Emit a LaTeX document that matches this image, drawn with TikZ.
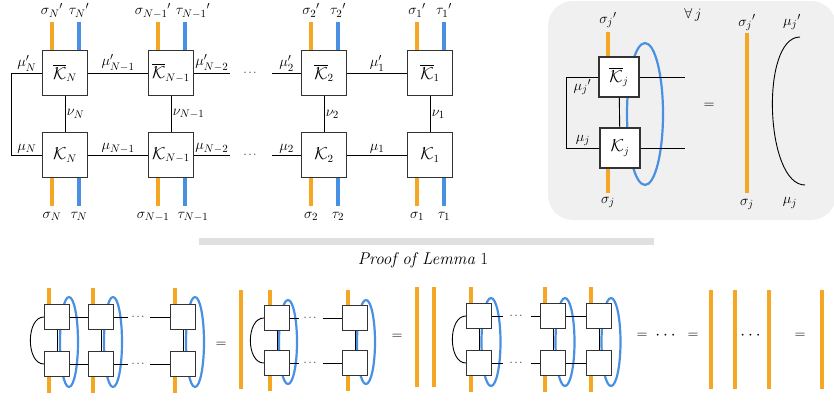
\documentclass[tikz,border=0pt]{standalone}
\usepackage{amsmath, amssymb}
\usepackage{tikz}
\usetikzlibrary{positioning}
\definecolor{legorange}{RGB}{245,166,35}
\definecolor{legblue}{RGB}{74,144,226}

\begin{document}
\begin{tikzpicture}[
  x=1pt, y=-1pt,
  font=\fontsize{15}{18}\selectfont,
  tensor/.style={draw=black!80, line width=1.3pt, fill=white, minimum size=45pt, inner sep=0pt,
    font=\fontsize{16}{19}\selectfont},
  stensor/.style={tensor, minimum size=25pt},
  bond/.style={black, line width=0.9pt},
  oleg/.style={legorange, line width=4.5pt},
  bleg/.style={legblue, line width=4.5pt},
  bloop/.style={legblue, line width=2.2pt},
  lbl/.style={inner sep=1.5pt, text=black},
  toplbl/.style={anchor=base, inner sep=0pt, text=black, yshift=7pt},
  botlbl/.style={anchor=base, inner sep=0pt, text=black, yshift=-12pt},
  dotsnode/.style={inner sep=0pt, font=\fontsize{11}{12}\selectfont},
  bigdots/.style={inner sep=0pt, font=\fontsize{17}{19}\selectfont}
]
\useasboundingbox (0,0) rectangle (834,400);

% background of the identity and the separator
\fill[gray!12, rounded corners=25pt] (548,1) rectangle (836,220);
\draw[gray!24, line width=7pt] (199,241) -- (654,241);

% top: the double chain
\foreach \n/\x/\s/\so/\to in {N/65/N/0/0, M/171/N-1/-5/8, B/324/2/0/0, A/430/1/0/0} {
  \node[tensor] (kb\n) at (\x,73) {$\overline{\mathcal{K}}_{\s}$};
  \node[tensor] (k\n) at (\x,155) {$\mathcal{K}_{\s}$};
  \draw[bond] (kb\n) -- node[right, lbl] {$\nu_{\s}$} (k\n);
  \draw[oleg] ([xshift=-13pt]kb\n.north) -- ++(0,-28) node[toplbl, xshift=\so] {${\sigma_{\s}}'$};
  \draw[bleg] ([xshift=14pt]kb\n.north) -- ++(0,-28) node[toplbl, xshift=\to] {${\tau_{\s}}'$};
  \draw[oleg] ([xshift=-13pt]k\n.south) -- ++(0,28) node[botlbl, xshift=\so] {$\sigma_{\s}$};
  \draw[bleg] ([xshift=14pt]k\n.south) -- ++(0,28) node[botlbl, xshift=\to] {$\tau_{\s}$};
}
\node[dotsnode, minimum width=42pt] (dt) at (251,73) {$\cdots$};
\node[dotsnode, minimum width=42pt] (db) at (251,155) {$\cdots$};

\draw[bond] (kbN.west) -- node[above, lbl] {$\mu'_N$} ++(-30,0) |- (kN.west)
  node[pos=0.75, above, lbl] {$\mu_N$};
\draw[bond] (kbN) -- node[above, lbl] {$\mu'_{N-1}$} (kbM);
\draw[bond] (kbM) -- node[above, lbl] {$\mu'_{N-2}$} (dt);
\draw[bond] (dt) -- node[above, lbl] {$\mu'_2$} (kbB);
\draw[bond] (kbB) -- node[above, lbl] {$\mu'_1$} (kbA);
\draw[bond] (kN) -- node[above, lbl] {$\mu_{N-1}$} (kM);
\draw[bond] (kM) -- node[above, lbl] {$\mu_{N-2}$} (db);
\draw[bond] (db) -- node[above, lbl] {$\mu_2$} (kB);
\draw[bond] (kB) -- node[above, lbl] {$\mu_1$} (kA);

% top right: the identity for every j
\draw[bloop] (645,114) ellipse [x radius=18pt, y radius=71pt];
\node[tensor, minimum size=40pt] (kbj) at (619,77) {$\overline{\mathcal{K}}_j$};
\node[tensor, minimum size=40pt] (kj) at (620,148) {$\mathcal{K}_j$};
\draw[bond] (kbj) -- (kj);
\draw[bond] (kbj.west) -- node[below, lbl] {${\mu_j}'$} ++(-32,0) |- (kj.west)
  node[pos=0.75, above, lbl] {$\mu_j$};
\draw[bond] (kbj.east) -- ++(45,0);
\draw[bond] (kj.east) -- ++(44,0);
\draw[oleg] ([xshift=-11pt]kbj.north) -- ++(0,-24) node[toplbl, yshift=2pt] {${\sigma_j}'$};
\draw[oleg] ([xshift=-12pt]kj.south) -- ++(0,24) node[botlbl, yshift=1pt] {$\sigma_j$};
\node (forall) at (693,15) {$\forall\, j$};
\node (eqj) at (709,106) {$=$};

\coordinate (sjT) at (747,33);
\coordinate (sjB) at (747,193);
\draw[oleg] (sjT) -- (sjB);
\node[toplbl] at (sjT) {${\sigma_j}'$};
\node[botlbl] at (sjB) {$\sigma_j$};
\coordinate (mjT) at (800,37);
\coordinate (mjB) at (805,185);
\draw[bond] (mjT) .. controls +(-40,0) and +(-40,0) .. (mjB);
\node (mjTl) at (792,22) {${\mu_j}'$};
\node (mjBl) at (790,203) {$\mu_j$};

% bottom: the proof
\node[font=\fontsize{17}{20}\selectfont] (proof) at (423,260) {\textit{Proof of Lemma} 1};

% first chain
\foreach \i/\x in {1/57, 2/101, 3/183} {
  \draw[bloop] (\x+12,342) ellipse [x radius=9pt, y radius=45pt];
  \node[stensor] (ta\i) at (\x,317) {};
  \node[stensor] (ba\i) at (\x,364) {};
  \draw[bond] (ta\i) -- (ba\i);
  \draw[oleg] ([xshift=-8pt]ta\i.north) -- ++(0,-16);
  \draw[oleg] ([xshift=-8pt]ba\i.south) -- ++(0,16);
}
\node[dotsnode, minimum width=22pt] (dta) at (139,317) {$\cdots$};
\node[dotsnode, minimum width=22pt] (dba) at (139,364) {$\cdots$};
\draw[bond] (ta1) -- (ta2) -- (dta) -- (ta3);
\draw[bond] (ba1) -- (ba2) -- (dba) -- (ba3);
\draw[bond] (ta1.west) .. controls +(-18,0) and +(-18,0) .. (ba1.west);
\node (eq1) at (221,345) {$=$};
\draw[oleg] (241,290) -- (241,389);

% second chain
\foreach \i/\x in {1/277, 2/355} {
  \draw[bloop] (\x+11,342) ellipse [x radius=9pt, y radius=42pt];
  \node[stensor] (tb\i) at (\x,318) {};
  \node[stensor] (bb\i) at (\x,363) {};
  \draw[bond] (tb\i) -- (bb\i);
  \draw[oleg] ([xshift=-7pt]tb\i.north) -- ++(0,-15);
  \draw[oleg] ([xshift=-7pt]bb\i.south) -- ++(0,15);
}
\node[dotsnode, minimum width=23pt] (dtb) at (311,318) {$\cdots$};
\node[dotsnode, minimum width=23pt] (dbb) at (311,363) {$\cdots$};
\draw[bond] (tb1) -- (dtb) -- (tb2);
\draw[bond] (bb1) -- (dbb) -- (bb2);
\draw[bond] (tb1.west) .. controls +(-18,0) and +(-18,0) .. (bb1.west);
\node (eq2) at (397,337) {$=$};
\draw[oleg] (417,287) -- (417,387);
\draw[oleg] (434,287) -- (434,387);

% third chain
\foreach \i/\x in {1/479, 2/553, 3/599} {
  \draw[bloop] (\x+12,342) ellipse [x radius=9.5pt, y radius=44pt];
  \node[stensor] (tc\i) at (\x,316) {};
  \node[stensor] (bc\i) at (\x,363) {};
  \draw[bond] (tc\i) -- (bc\i);
  \draw[oleg] ([xshift=-8pt]tc\i.north) -- ++(0,-16);
  \draw[oleg] ([xshift=-8pt]bc\i.south) -- ++(0,16);
}
\node[dotsnode, minimum width=27pt] (dtc) at (517,316) {$\cdots$};
\node[dotsnode, minimum width=27pt] (dbc) at (517,363) {$\cdots$};
\draw[bond] (tc1) -- (dtc) -- (tc2) -- (tc3);
\draw[bond] (bc1) -- (dbc) -- (bc2) -- (bc3);
\draw[bond] (tc1.west) .. controls +(-18,0) and +(-18,0) .. (bc1.west);

% the rest of the chain of equalities
\node (eq3) at (642,336) {$=$};
\node[bigdots] (dd) at (667,336) {$\cdots$};
\node (eq4) at (693,336) {$=$};
\draw[oleg] (711,290) -- (711,389);
\draw[oleg] (735,290) -- (735,389);
\node[bigdots] (dbar) at (752,336) {$\cdots$};
\draw[oleg] (769,290) -- (769,389);
\node (eq5) at (800,336) {$=$};
\draw[oleg] (822,290) -- (822,389);
\end{tikzpicture}
\end{document}
